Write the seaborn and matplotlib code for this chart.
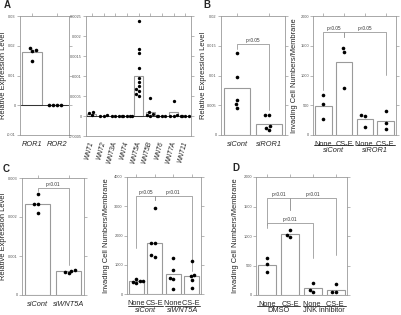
import numpy as np
import pandas as pd
import seaborn as sns
import matplotlib.pyplot as plt
import matplotlib.transforms as mtransforms

# ---- datos ----
# A (izquierda): ROR1 / ROR2
ror_cats = ['ROR1', 'ROR2']
ror_bar = [0.0179, 0.0]
ror1_pts = [0.0187, 0.0182, 0.0192, 0.0150]
ror2_pts = [0.0, 0.0, 0.0, 0.0]

# A (derecha): WNTs
wnt_cats = ['WNT1', 'WNT2', 'WNT3A', 'WNT4', 'WNT5A', 'WNT5B', 'WNT6', 'WNT7A', 'WNT11']
wnt_bar = [0.00006, 0.00001, 0.00001, 0.000005, 0.00100, 0.00009, 0.0, 0.00010, 0.0]
wnt_pts = [
    [0.00011, 0.00008, 0.00003],
    [0.00001, 0.0, 0.00002],
    [0.00001, 0.0, 0.00001],
    [0.0, 0.0, 0.00001, 0.0, 0.0],
    [0.00238, 0.00167, 0.00157, 0.00119, 0.00095, 0.00084, 0.00075, 0.00068, 0.00062, 0.00056, 0.00050],
    [0.00046, 0.00009, 0.00006, 0.00003, 0.00001],
    [0.0, 0.0, 0.00001, 0.0],
    [0.00038, 0.00002, 0.00001, 0.0],
    [0.00001, 0.0, 0.0, 0.0],
]

# B (izquierda): siCont / siROR1
b1_cats = ['siCont', 'siROR1']
b1_bar = [0.00785, 0.00185]
b1_pts = [[0.0138, 0.0098, 0.0059, 0.0052, 0.0046],
          [0.0034, 0.0034, 0.0015, 0.0012, 0.0009]]

# B (derecha): invasión
b2_cats = ['None', 'CS-E', 'None ', 'CS-E ']
b2_bar = [492, 1222, 269, 235]
b2_pts = [[677, 516, 274], [1457, 1400, 795], [336, 319, 140], [403, 197, 96]]

# C (izquierda): siCont / siWNT5A
c1_cats = ['siCont', 'siWNT5A']
c1_bar = [0.00233, 0.000615]
c1_pts = [[0.00258, 0.00234, 0.00233, 0.00211],
          [0.00063, 0.00060, 0.00056, 0.00062]]

# C (derecha): invasión
c2_cats = ['None', 'CS-E', 'None ', 'CS-E ']
c2_bar = [440, 1760, 670, 610]
c2_pts = [[520, 452, 430, 408, 384],
          [2950, 1760, 1740, 1320, 1280],
          [1240, 820, 560, 520, 170],
          [1130, 650, 600, 480, 220]]

# D: DMSO / JNK inhibitor
d_cats = ['None', 'CS-E', 'None ', 'CS-E ']
d_bar = [507, 1030, 113, 84]
d_pts = [[630, 529, 383], [1098, 1014, 980], [198, 90, 56], [181, 56, 56]]

W, H = 401, 315
gris = '#9a9a9a'

sns.set_theme(style='ticks')
plt.rcParams['font.family'] = ['Liberation Sans', 'DejaVu Sans']

fig = plt.figure(figsize=(W / 100, H / 100), dpi=100)


def frac(b):
    x0, y0, x1, y1 = b
    return [x0 / W, 1 - y1 / H, (x1 - x0) / W, (y1 - y0) / H]


def ay(b, ypx):
    return (b[3] - ypx) / (b[3] - b[1])


def panel(b, cats, bars, pts, ylim, yticks, ylabels, size=2.6):
    ax = fig.add_axes(frac(b))
    ax.set_ylim(ylim)
    sns.barplot(x=cats, y=bars, order=cats, color='white', edgecolor=gris,
                linewidth=0.8, width=0.8, errorbar=None, ax=ax)
    df = pd.DataFrame({'grupo': np.repeat(cats, [len(p) for p in pts]),
                       'valor': np.concatenate(pts)})
    ax.set_xlim(-0.5, len(cats) - 0.5)
    ax.set_ylim(ylim)
    sns.swarmplot(data=df, x='grupo', y='valor', order=cats, color='black',
                  size=size, ax=ax)
    ax.set_xlim(-0.5, len(cats) - 0.5)
    ax.set_ylim(ylim)
    ax.set_yticks(yticks)
    ax.set_yticklabels(ylabels)
    ax.set_xlabel('')
    ax.set_ylabel('')
    for s in ax.spines.values():
        s.set_visible(True)
        s.set_color(gris)
        s.set_linewidth(0.6)
    ax.tick_params(axis='y', left=True, right=True, direction='out', length=2,
                   width=0.5, color=gris, labelsize=2.8, labelcolor='#555555', pad=1)
    ax.tick_params(axis='x', bottom=False, top=True, direction='out', length=2,
                   width=0.5, color=gris, labelsize=5.3, pad=2)
    return ax


def ylab(ax, b, xpx, txt):
    ax.set_ylabel(txt, fontsize=5.4, color='#222222')
    ax.yaxis.set_label_coords((xpx - b[0]) / (b[2] - b[0]), 0.5)


def bracket(ax, x1, x2, ytop, y1, y2):
    ax.plot([x1, x1, x2, x2], [y1, ytop, ytop, y2], color=gris, lw=0.6,
            solid_joinstyle='round', clip_on=False)


def ptxt(ax, x, y, t):
    ax.text(x, y, t, ha='center', va='bottom', fontsize=3.4, color='#333333')


def grupos(ax, b, names, yline, ytext, italic=True):
    tr = mtransforms.blended_transform_factory(ax.transData, ax.transAxes)
    for i, n in enumerate(names):
        ax.plot([2 * i - 0.45, 2 * i + 1.45], [ay(b, yline)] * 2, transform=tr,
                color='#222222', lw=0.6, clip_on=False)
        ax.text(2 * i + 0.5, ay(b, ytext), n, transform=tr, ha='center',
                va='center', fontsize=5.3, style='italic' if italic else 'normal')


# ---- A izquierda ----
bA1 = (20, 16, 69, 135)
ax = panel(bA1, ror_cats, ror_bar, [ror1_pts, ror2_pts], (-0.01, 0.03),
           [-0.01, 0, 0.01, 0.02, 0.03], ['-0.01', '0', '0.01', '0.02', '0.03'])
ax.set_xticks(range(2))
ax.set_xticklabels(ror_cats, style='italic')
ax.axhline(0, color='#222222', lw=0.6)
ylab(ax, bA1, 7, 'Relative Expression Level')

# ---- A derecha ----
bA2 = (86, 16, 191, 136)
ax = panel(bA2, wnt_cats, wnt_bar, wnt_pts, (-0.0005, 0.0025),
           [-0.0005, 0, 0.0005, 0.001, 0.0015, 0.002, 0.0025],
           ['-0.0005', '0', '0.0005', '0.001', '0.0015', '0.002', '0.0025'], size=2.4)
ax.set_xticks(range(len(wnt_cats)))
ax.set_xticklabels(wnt_cats, style='italic', rotation=75, ha='right', va='center',
                   rotation_mode='anchor', fontsize=4.8)
ax.axhline(0, color='#222222', lw=0.6)

# ---- B izquierda ----
bB1 = (221, 16, 285, 135)
ax = panel(bB1, b1_cats, b1_bar, b1_pts, (0, 0.02),
           [0, 0.005, 0.01, 0.015, 0.02], ['0', '0.005', '0.01', '0.015', '0.02'])
ax.set_xticks(range(2))
ax.set_xticklabels(b1_cats, style='italic')
ylab(ax, bB1, 207, 'Relative Expression Level')
bracket(ax, 0, 1, 0.01524, 0.0144, 0.0042)
ptxt(ax, 0.5, 0.0154, 'p<0.05')

# ---- B derecha ----
bB2 = (313, 16, 396, 135)
ax = panel(bB2, b2_cats, b2_bar, b2_pts, (0, 2000),
           [0, 500, 1000, 1500, 2000], ['0', '500', '1000', '1500', '2000'])
ylab(ax, bB2, 298, 'Invading Cell Numbers/Membrane')
bracket(ax, 0, 1, 1731, 756, 1647)
bracket(ax, 1, 3, 1731, 1647, 1008)
ptxt(ax, 0.5, 1745, 'p<0.05')
ptxt(ax, 2.0, 1745, 'p<0.05')
grupos(ax, bB2, ['siCont', 'siROR1'], 144.5, 150)

# ---- C izquierda ----
bC1 = (22, 178, 84, 295)
ax = panel(bC1, c1_cats, c1_bar, c1_pts, (0, 0.003),
           [0, 0.001, 0.002, 0.003], ['0', '0.001', '0.002', '0.003'])
ax.set_xticks(range(2))
ax.set_xticklabels(c1_cats, style='italic')
ylab(ax, bC1, 7, 'Relative Expression Level')
bracket(ax, 0, 1, 0.00275, 0.00266, 0.00077)
ptxt(ax, 0.5, 0.00278, 'p<0.01')

# ---- C derecha ----
bC2 = (127, 177, 201, 294)
ax = panel(bC2, c2_cats, c2_bar, c2_pts, (0, 4000),
           [0, 1000, 2000, 3000, 4000], ['0', '1000', '2000', '3000', '4000'])
ylab(ax, bC2, 110, 'Invading Cell Numbers/Membrane')
bracket(ax, 0, 1, 3354, 1575, 3207)
bracket(ax, 1, 3, 3354, 3207, 793)
ptxt(ax, 0.5, 3380, 'p<0.05')
ptxt(ax, 2.0, 3380, 'p<0.01')
grupos(ax, bC2, ['siCont', 'siWNT5A'], 305.5, 311)

# ---- D ----
bD = (256, 177, 347, 295)
ax = panel(bD, d_cats, d_bar, d_pts, (0, 2000),
           [0, 500, 1000, 1500, 2000], ['0', '500', '1000', '1500', '2000'])
ylab(ax, bD, 239, 'Invading Cell Numbers/Membrane')
bracket(ax, 0, 1, 1639, 1186, 1440)
bracket(ax, 1, 3, 1639, 1440, 678)
bracket(ax, 0, 2, 1225, 1136, 627)
ptxt(ax, 0.5, 1655, 'p<0.01')
ptxt(ax, 2.0, 1655, 'p<0.01')
ptxt(ax, 1.0, 1240, 'p<0.01')
grupos(ax, bD, ['DMSO', 'JNK inhibitor'], 305.5, 310.5, italic=False)

# letras de panel
for letra, x, y in [('A', 4, 5), ('B', 203, 5), ('C', 3, 169), ('D', 232, 168)]:
    fig.text(x / W, 1 - y / H, letra, fontsize=7, fontweight='bold',
             va='center', ha='left')

fig.savefig('out.png', dpi=100)
